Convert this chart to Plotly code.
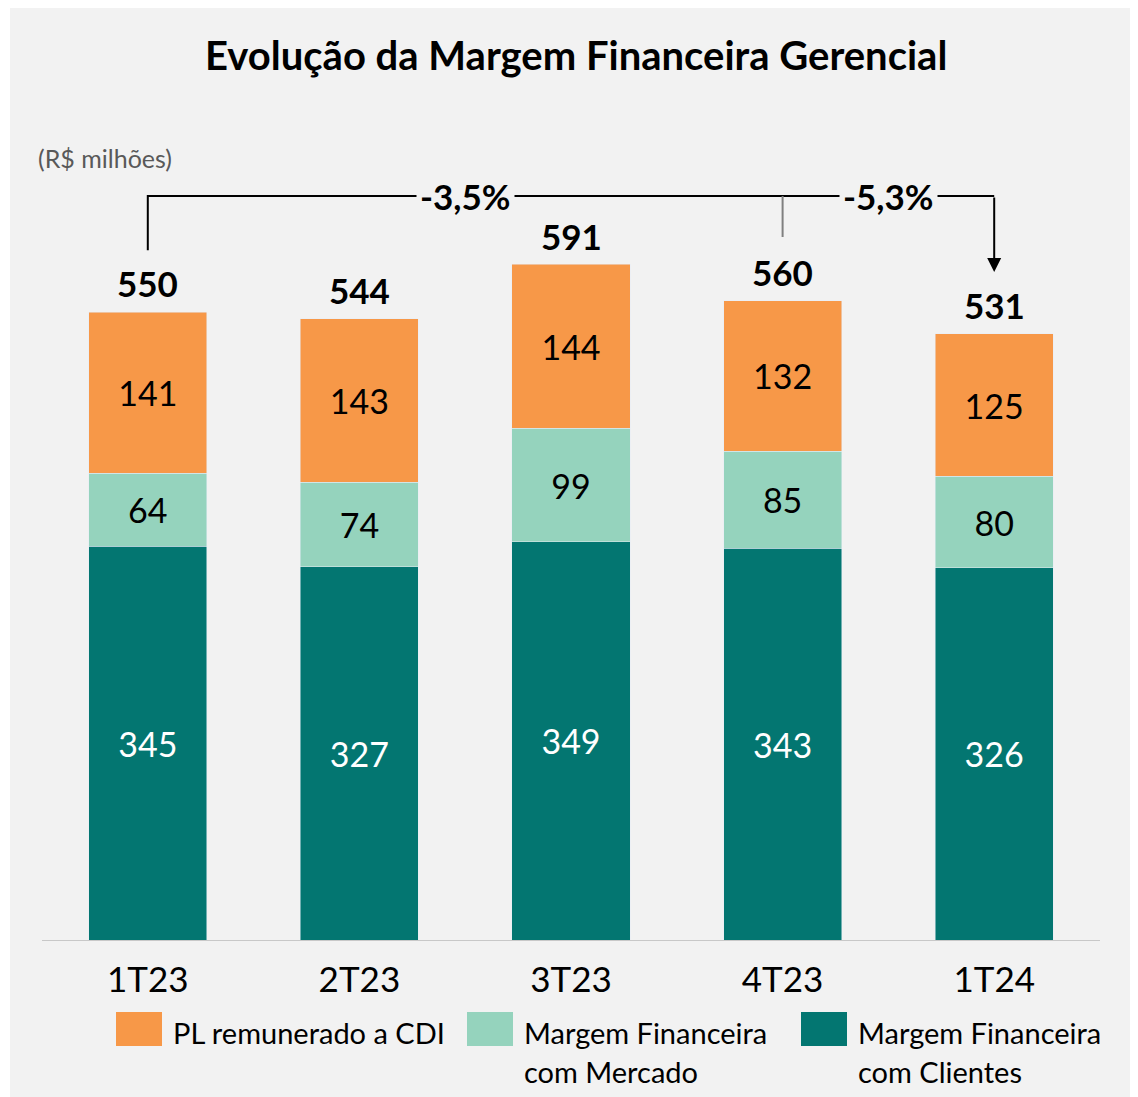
import plotly.graph_objects as go

# ---------------- data ----------------
categories = ["1T23", "2T23", "3T23", "4T23", "1T24"]
clientes = [345, 327, 349, 343, 326]
mercado = [64, 74, 99, 85, 80]
pl_cdi = [141, 143, 144, 132, 125]
totals = [550, 544, 591, 560, 531]
var_labels = ["-3,5%", "-5,3%"]
series_names = ["PL remunerado a CDI", "Margem Financeira com Mercado", "Margem Financeira com Clientes"]
legend_lines = [["PL remunerado a CDI"], ["Margem Financeira", "com Mercado"], ["Margem Financeira", "com Clientes"]]

# ---------------- style ----------------
C_ORANGE = "#F79848"
C_LIGHT = "#95D3BD"
C_TEAL = "#037671"
BG = "#F2F2F2"
FONT = "Lato"

OFF = 8  # page body margin
W, H = 1130, 1089
ML, MR, MT, MB = 34, 38, 92, 157
PW, PH = W - ML - MR, H - MT - MB
YMAX = 735.7


def pxx(p):
    # p: page pixel x
    return (p - OFF - ML) / PW


def pxy(p):
    # p: page pixel y
    return (H - MB - (p - OFF)) / PH


fig = go.Figure()
fig.add_trace(go.Bar(x=categories, y=clientes, name=series_names[2], marker_color=C_TEAL,
                     text=[str(v) for v in clientes], textposition="inside", insidetextanchor="middle",
                     textangle=0, textfont=dict(family=FONT, size=34, color="white")))
fig.add_trace(go.Bar(x=categories, y=mercado, name=series_names[1], marker_color=C_LIGHT,
                     text=[str(v) for v in mercado], textposition="inside", insidetextanchor="middle",
                     textangle=0, textfont=dict(family=FONT, size=34, color="black")))
fig.add_trace(go.Bar(x=categories, y=pl_cdi, name=series_names[0], marker_color=C_ORANGE,
                     text=[str(v) for v in pl_cdi], textposition="inside", insidetextanchor="middle",
                     textangle=0, textfont=dict(family=FONT, size=34, color="black")))

annotations = []
# totals
for c, t in zip(categories, totals):
    annotations.append(dict(x=c, y=t, xref="x", yref="y", text=f"<b>{t}</b>", showarrow=False,
                            yanchor="middle", yshift=29, font=dict(family=FONT, size=35, color="black")))

# bracket
y_br = 651.6
shapes = [
    dict(type="rect", xref="paper", yref="paper", x0=pxx(10), x1=pxx(1138), y0=pxy(1097), y1=pxy(8),
         fillcolor=BG, line=dict(width=0), layer="below"),
    dict(type="path", xref="x", yref="y", path=f"M 0,604 L 0,{y_br} L 4,{y_br}",
         line=dict(color="black", width=2)),
    dict(type="line", xref="x", yref="y", x0=3, x1=3, y0=615.7, y1=y_br,
         line=dict(color="#808080", width=2)),
]
annotations.append(dict(x=4, y=585, xref="x", yref="y", ax=4, ay=y_br, axref="x", ayref="y",
                        text="", showarrow=True, arrowhead=2, arrowsize=1.4, arrowwidth=2,
                        arrowcolor="black", standoff=0))
for xpos, lab in zip([1.5, 3.5], var_labels):
    annotations.append(dict(x=xpos, y=y_br, xref="x", yref="y", text=f"<b>{lab}</b>", showarrow=False,
                            bgcolor=BG, borderpad=3, yanchor="middle",
                            font=dict(family=FONT, size=35, color="black")))

# title and unit
annotations.append(dict(x=pxx(576), y=pxy(55), xref="paper", yref="paper",
                        text="<b>Evolução da Margem Financeira Gerencial</b>", showarrow=False,
                        xanchor="center", yanchor="middle", font=dict(family=FONT, size=40, color="black")))
annotations.append(dict(x=pxx(36), y=pxy(158), xref="paper", yref="paper", text="(R$ milhões)",
                        showarrow=False, xanchor="left", yanchor="middle",
                        font=dict(family=FONT, size=25, color="#595959")))

# manual legend
leg_colors = [C_ORANGE, C_LIGHT, C_TEAL]
leg_sq_x = [116, 467, 801]
for col, sx, lines in zip(leg_colors, leg_sq_x, legend_lines):
    shapes.append(dict(type="rect", xref="paper", yref="paper", x0=pxx(sx), x1=pxx(sx + 46),
                       y0=pxy(1046), y1=pxy(1012), fillcolor=col, line=dict(width=0)))
    for i, ln in enumerate(lines):
        annotations.append(dict(x=pxx(sx + 55), y=pxy(1032 + 39 * i), xref="paper", yref="paper",
                                text=ln, showarrow=False, xanchor="left", yanchor="middle",
                                font=dict(family=FONT, size=29, color="black")))

fig.update_layout(
    width=W, height=H, barmode="stack", bargap=0.442, showlegend=False,
    margin=dict(l=ML, r=MR, t=MT, b=MB, pad=0),
    paper_bgcolor="white", plot_bgcolor="rgba(0,0,0,0)",
    shapes=shapes, annotations=annotations,
    xaxis=dict(type="category", showline=True, linecolor="#C8C8C8", linewidth=1, ticks="",
               showgrid=False, zeroline=False, tickfont=dict(family=FONT, size=35, color="black"),
               ticklabelstandoff=9),
    yaxis=dict(visible=False, range=[0, YMAX], showgrid=False, zeroline=False),
    uniformtext=dict(mode=False),
)

fig.write_html("out.html")
